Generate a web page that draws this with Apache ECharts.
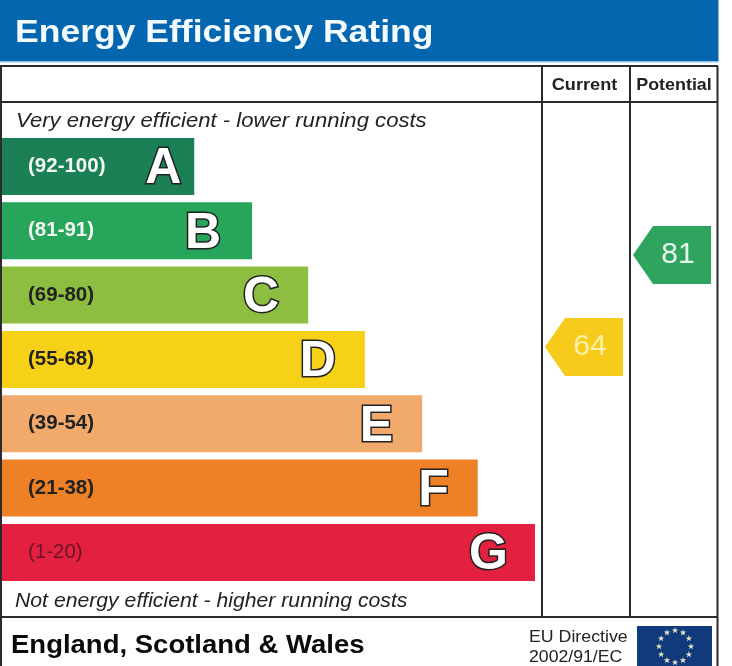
<!DOCTYPE html>
<html><head><meta charset="utf-8">
<style>html,body{margin:0;padding:0;background:#fff}#c{width:732px;height:666px}</style>
<script src="https://cdn.jsdelivr.net/npm/echarts@6/dist/echarts.min.js"></script>
</head><body><div id="c"></div>
<script>
const bandLetters = ['A','B','C','D','E','F','G'];
const bandRanges = ['(92-100)','(81-91)','(69-80)','(55-68)','(39-54)','(21-38)','(1-20)'];
const bandLengths = [35.6,46.3,56.7,67.2,77.8,88.1,98.7];
const bandColors = ['#1b8056','#27a55b','#8dbd41','#f7d117','#f2a96c','#ee8125','#e3203f'];
const rangeColors = ['#f2f7f2','#f2f7f2','#222222','#222222','#222222','#222222','#6a1428'];
const letterGaps = [13,31,29,29,29,29,27];
const columns = ['Current','Potential'];
const ratings = [64,81];
const ratingColors = ['#f6cb1c','#2fa45f'];
const font = '"Liberation Sans", Arial, sans-serif';
const ink = '#2b2b2b';

function line(x1,y1,x2,y2){
  return {type:'line',silent:true,z:5,shape:{x1,y1,x2,y2},style:{stroke:ink,lineWidth:2}};
}
function txt(x,y,text,fontSpec,scaleX,opts){
  return {type:'text',silent:true,z:6,x,y,scaleX:scaleX,style:Object.assign({text,font:fontSpec+' '+font,fill:'#222',textVerticalAlign:'middle'},opts||{})};
}
function star(cx,cy,r){
  const pts=[];
  for(let i=0;i<10;i++){
    const a=-Math.PI/2+i*Math.PI/5, q=i%2?r*0.4:r;
    pts.push([cx+q*Math.cos(a),cy+q*Math.sin(a)]);
  }
  return {type:'polygon',silent:true,z:7,shape:{points:pts},style:{fill:'#e6e3c4'}};
}
const stars=[];
for(let i=0;i<12;i++){
  const a=i*Math.PI/6;
  stars.push(star(675+16*Math.sin(a),646.5-16*Math.cos(a),3.4));
}
const arrowPath='path://M20 0L78 0L78 58L20 58L0 29Z';

const chart=echarts.init(document.getElementById('c'),null,{renderer:'canvas'});
chart.setOption({
  animation:false,
  backgroundColor:'#fff',
  graphic:[
    {type:'rect',silent:true,z:-1,shape:{x:0,y:0,width:718.5,height:61},style:{fill:'#0566b0'}},
    {type:'rect',silent:true,z:-1,shape:{x:0,y:61,width:718.5,height:1.5},style:{fill:'#8cc4e8'}},
    txt(15,33,'Energy Efficiency Rating','bold 32px',1.11,{fill:'#f4fbff'}),
    line(1,66,1,666),line(0,66,718,66),line(717.5,66,717.5,666),
    line(0,102,718,102),line(0,617,718,617),
    line(542,66,542,617),line(630,66,630,617),
    txt(584.5,85,columns[0],'bold 16.5px',1.10,{textAlign:'center'}),
    txt(674,85,columns[1],'bold 16.5px',1.085,{textAlign:'center'}),
    txt(16,121,'Very energy efficient - lower running costs','italic 20px',1.105),
    txt(15,601,'Not energy efficient - higher running costs','italic 20px',1.06),
    txt(11,646,'England, Scotland & Wales','bold 25px',1.10,{fill:'#0a0a0a'}),
    txt(529,637,'EU Directive','16.5px',1.076),
    txt(529,657,'2002/91/EC','16.5px',1.07),
    {type:'rect',silent:true,z:6,shape:{x:637,y:626,width:75,height:40},style:{fill:'#103a7c'}}
  ].concat(stars),
  grid:[
    {left:2,width:540,top:134.3,height:450.3,containLabel:false},
    {left:540,width:176,top:102,height:515,containLabel:false}
  ],
  xAxis:[
    {type:'value',gridIndex:0,min:0,max:100,show:false},
    {type:'category',gridIndex:1,data:columns,show:false}
  ],
  yAxis:[
    {type:'category',gridIndex:0,data:bandLetters,inverse:true,show:false},
    {type:'value',gridIndex:1,min:14.1,max:109.3,show:false}
  ],
  series:[
    {type:'bar',xAxisIndex:0,yAxisIndex:0,barWidth:57,barGap:'-100%',silent:true,z:3,
      data:bandLengths.map((v,i)=>({value:v,itemStyle:{color:bandColors[i]},
        label:{show:true,position:'insideLeft',distance:26,formatter:bandRanges[i],
          color:rangeColors[i],fontFamily:font,fontWeight:i===6?'normal':'bold',fontSize:20.5}}))},
    {type:'bar',xAxisIndex:0,yAxisIndex:0,barWidth:57,barGap:'-100%',silent:true,z:4,
      itemStyle:{color:'transparent'},
      data:bandLengths.map((v,i)=>({value:v,
        label:{show:true,position:'insideRight',distance:letterGaps[i],offset:[0,3],formatter:bandLetters[i],
          color:'#ffffff',fontFamily:font,fontWeight:'bold',fontSize:50,
          textBorderColor:'#222222',textBorderWidth:3}}))},
    {type:'scatter',xAxisIndex:1,yAxisIndex:1,silent:true,z:4,symbol:arrowPath,symbolSize:[78,58],
      data:ratings.map((v,i)=>({value:[columns[i],v],itemStyle:{color:ratingColors[i],opacity:1},
        label:{show:true,position:'inside',offset:[6,0],formatter:String(v),
          color:i===0?'#fdf0a8':'#e6f6ec',fontFamily:font,fontSize:30}}))}
  ]
});
</script></body></html>
